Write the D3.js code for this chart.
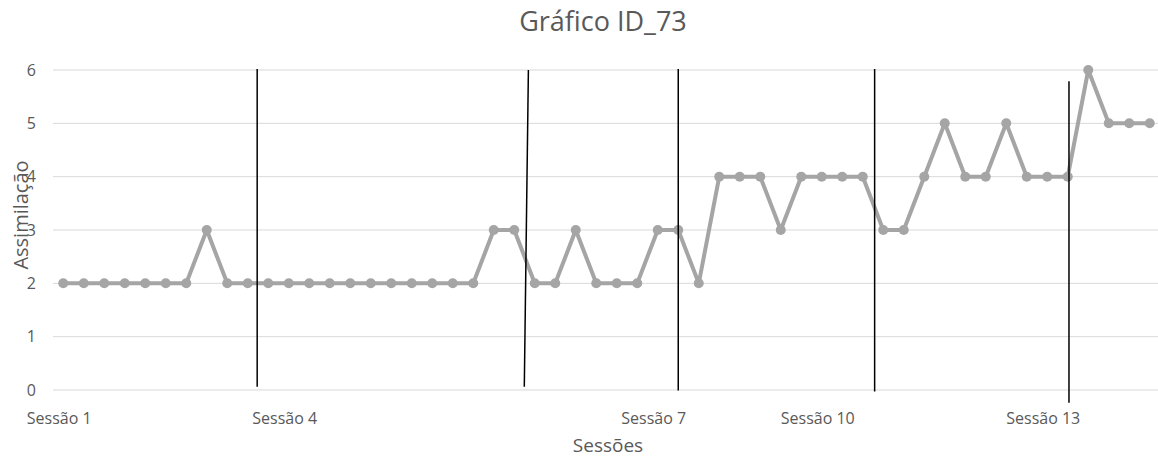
<!DOCTYPE html>
<html>
<head>
<meta charset="utf-8">
<style>
  body { margin: 0; background: #fff; }
  text { font-family: "Open Sans", sans-serif; fill: #595959; }
</style>
</head>
<body>
<div id="chart"></div>
<script src="https://d3js.org/d3.v7.min.js"></script>
<script>
  // one value per observation (54 points)
  const values = [2, 2, 2, 2, 2, 2, 2, 3, 2, 2, 2, 2, 2, 2, 2, 2, 2, 2, 2, 2, 2,
                  3, 3, 2, 2, 3, 2, 2, 2, 3, 3, 2, 4, 4, 4, 3, 4, 4, 4, 4,
                  3, 3, 4, 5, 4, 4, 5, 4, 4, 4, 6, 5, 5, 5];
  const points = values.map((v, i) => i);

  // category labels shown on the axis (index of point -> text)
  const labelIndex = [0, 11, 29, 37, 48];
  const labelText = ["Sessão 1", "Sessão 4", "Sessão 7", "Sessão 10", "Sessão 13"];

  const yTicks = [0, 1, 2, 3, 4, 5, 6];

  // phase change lines, in data units: [x top, y top, x bottom, y bottom]
  const phaseLines = [
    [9.46, 6.02, 9.46, 0.06],
    [22.69, 6.0, 22.49, 0.06],
    [30.0, 6.02, 30.0, -0.01],
    [39.58, 6.02, 39.58, -0.03],
    [49.06, 5.79, 49.06, -0.24]
  ];

  const W = 1158, H = 460;
  const plot = { left: 53, right: 1160, top: 70, bottom: 390 };

  const svg = d3.select("#chart").append("svg")
    .attr("width", W)
    .attr("height", H);

  const x = d3.scalePoint().domain(points).range([plot.left, plot.right]).padding(0.5);
  const step = x.step();
  const xv = v => x(0) + v * step;
  const y = d3.scaleLinear().domain([0, 6]).range([plot.bottom, plot.top]);

  // gridlines
  svg.append("g")
    .selectAll("line")
    .data(yTicks)
    .join("line")
    .attr("x1", plot.left).attr("x2", plot.right)
    .attr("y1", d => y(d)).attr("y2", d => y(d))
    .attr("stroke", "#d9d9d9")
    .attr("stroke-width", 1);

  // y axis labels
  const yAxis = svg.append("g")
    .attr("transform", `translate(${plot.left},0)`)
    .call(d3.axisLeft(y).tickValues(yTicks).tickFormat(d3.format("d")).tickSize(0).tickPadding(17));
  yAxis.select(".domain").remove();
  yAxis.selectAll("text")
    .style("font-size", "16px")
    .attr("fill", "#595959");

  // x axis labels
  svg.append("g")
    .selectAll("text")
    .data(labelIndex)
    .join("text")
    .attr("x", d => x(d) - 4)
    .attr("y", 424)
    .attr("text-anchor", "middle")
    .style("font-size", "16px")
    .text((d, i) => labelText[i]);

  // series line
  svg.append("path")
    .datum(values)
    .attr("fill", "none")
    .attr("stroke", "#a5a5a5")
    .attr("stroke-width", 4)
    .attr("stroke-linejoin", "round")
    .attr("d", d3.line().x((d, i) => x(i)).y(d => y(d)));

  svg.append("g")
    .selectAll("circle")
    .data(values)
    .join("circle")
    .attr("cx", (d, i) => x(i))
    .attr("cy", d => y(d))
    .attr("r", 5)
    .attr("fill", "#a5a5a5");

  // phase change lines drawn over the series
  svg.append("g")
    .selectAll("line")
    .data(phaseLines)
    .join("line")
    .attr("x1", d => xv(d[0])).attr("y1", d => y(d[1]))
    .attr("x2", d => xv(d[2])).attr("y2", d => y(d[3]))
    .attr("stroke", "#000")
    .attr("stroke-width", 1.5);

  // titles
  svg.append("text")
    .attr("x", 603).attr("y", 31)
    .attr("text-anchor", "middle")
    .style("font-size", "27px")
    .text("Gráfico ID_73");

  svg.append("text")
    .attr("x", 608).attr("y", 452)
    .attr("text-anchor", "middle")
    .style("font-size", "19px")
    .text("Sessões");

  svg.append("text")
    .attr("transform", "translate(28,215) rotate(-90)")
    .attr("text-anchor", "middle")
    .style("font-size", "20px")
    .text("Assimilação");
</script>
</body>
</html>
